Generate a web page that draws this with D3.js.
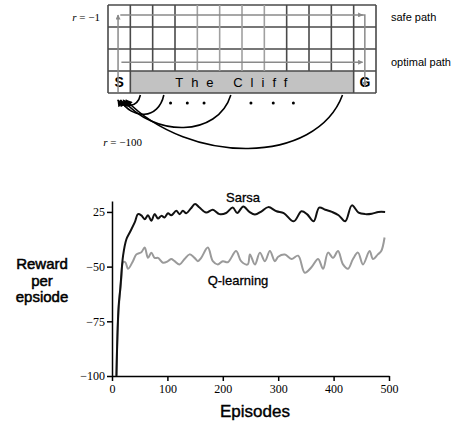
<!DOCTYPE html>
<html>
<head>
<meta charset="utf-8">
<script src="https://cdn.jsdelivr.net/npm/d3@7"></script>
<style>
  body { margin: 0; background: #fff; }
  svg { display: block; }
</style>
</head>
<body>
<div id="chart"></div>
<script>
// Gridworld layout
var nCols = 12, nRows = 4;
var lightCols = [4, 5, 6, 7];           // vertical lines drawn in lighter gray
var cliffCols = [1, 10];                // first / last cliff column
var fallCols = [1.45, 2.5, 5.5, 10.5];  // where the cliff arrows start
var fallDepth = [0.45, 0.85, 1.45, 2.4]; // how far below the grid they dip (rows)
var dotCols = [2.8, 3.55, 4.3, 6.4, 7.4, 8.3];

// Learning curves
var sarsaEp = [8, 10, 12, 15, 20, 26, 32, 41, 47, 53, 59, 65, 71, 77, 83, 89, 95, 101, 107, 116, 122, 128, 134, 142, 150, 158, 170, 182, 194, 206, 218, 226, 237, 248, 258, 270, 282, 297, 310, 328, 342, 352, 364, 374, 385, 397, 409, 421, 433, 445, 457, 469, 481, 493];
var sarsaVal = [-100, -80, -68, -60, -45, -37.5, -34.4, -29.8, -26, -26.6, -28.3, -26.5, -29, -26, -28, -26.8, -27.5, -25.6, -26.5, -24.5, -26, -24.5, -25.6, -23.5, -21.4, -23, -25.3, -24, -26, -25.5, -23, -25.5, -22.5, -25, -26.2, -24.7, -22.8, -24.7, -25.5, -29.3, -24.7, -26, -29.3, -23, -24, -25, -26.5, -29.3, -22, -25.3, -26, -25.8, -25, -25];
var qEp = [8, 10, 13, 17, 20, 24, 29, 38, 44, 53, 59, 65, 71, 77, 83, 92, 101, 107, 113, 122, 131, 140, 149, 155, 161, 173, 182, 191, 200, 209, 224, 233, 245, 249, 258, 267, 276, 285, 294, 300, 312, 324, 336, 348, 360, 372, 381, 390, 399, 408, 417, 426, 435, 444, 453, 465, 471, 480, 486, 492];
var qVal = [-100, -80, -66, -55, -48, -48, -51, -47.4, -44.4, -43.4, -41.3, -46, -43.6, -46, -46, -48.2, -47.5, -46.5, -47.5, -49, -46.5, -44.4, -46, -47.5, -46, -41.3, -47.5, -49, -47.5, -48, -42.9, -47.5, -49, -44.4, -49, -43.6, -47.5, -42.9, -47.5, -45.5, -44.5, -46.5, -45, -52.8, -50.3, -46.5, -51, -43.6, -46, -42.9, -49, -51, -46.5, -43.6, -49, -42.9, -46.5, -44.4, -42.9, -36.7];

var xTicks = [0, 100, 200, 300, 400, 500];
var yTicks = [-100, -75, -50, -25];
var yTickLabels = ["\u2212100", "\u221275", "\u221250", "25"];

var width = 460, height = 421;

var svg = d3.select("#chart").append("svg")
    .attr("width", width)
    .attr("height", height);

var defs = svg.append("defs");
defs.append("marker")
    .attr("id", "grayArrow")
    .attr("viewBox", "0 0 10 10")
    .attr("refX", 9).attr("refY", 5)
    .attr("markerWidth", 6).attr("markerHeight", 5)
    .attr("markerUnits", "userSpaceOnUse")
    .attr("orient", "auto")
    .append("path").attr("d", "M0,0L10,5L0,10z").attr("fill", "#8a8a8a");
defs.append("marker")
    .attr("id", "blackArrow")
    .attr("viewBox", "0 0 10 10")
    .attr("refX", 9).attr("refY", 5)
    .attr("markerWidth", 8).attr("markerHeight", 7)
    .attr("markerUnits", "userSpaceOnUse")
    .attr("orient", "auto")
    .append("path").attr("d", "M0,0L10,5L0,10z").attr("fill", "#000");

// ---------- Gridworld ----------
var gx = d3.scaleLinear().domain([0, nCols]).range([108, 376]);
var gy = d3.scaleLinear().domain([0, nRows]).range([5, 93]);

var grid = svg.append("g");

// cliff
grid.append("rect")
    .attr("x", gx(cliffCols[0]))
    .attr("y", gy(nRows - 1))
    .attr("width", gx(cliffCols[1] + 1) - gx(cliffCols[0]))
    .attr("height", gy(nRows) - gy(nRows - 1))
    .attr("fill", "#c2c2c2");

grid.selectAll(".hline")
    .data(d3.range(nRows + 1))
    .enter().append("line")
    .attr("x1", gx(0)).attr("x2", gx(nCols))
    .attr("y1", function(d) { return gy(d); })
    .attr("y2", function(d) { return gy(d); })
    .attr("stroke", "#4a4a4a").attr("stroke-width", 1.6);

grid.selectAll(".vline")
    .data(d3.range(nCols + 1))
    .enter().append("line")
    .attr("x1", function(d) { return gx(d); })
    .attr("x2", function(d) { return gx(d); })
    .attr("y1", gy(0))
    .attr("y2", function(d) { return (d >= cliffCols[0] + 1 && d <= cliffCols[1]) ? gy(nRows - 1) : gy(nRows); })
    .attr("stroke", function(d) { return lightCols.indexOf(d) >= 0 ? "#a0a0a0" : "#4a4a4a"; })
    .attr("stroke-width", 1.6);

grid.append("text")
    .attr("x", gx(0.5)).attr("y", gy(3.5) + 5)
    .attr("text-anchor", "middle")
    .style("font", "bold 14px 'Liberation Sans', Arial, sans-serif")
    .text("S");
grid.append("text")
    .attr("x", gx(11.5)).attr("y", gy(3.5) + 5)
    .attr("text-anchor", "middle")
    .style("font", "bold 14px 'Liberation Sans', Arial, sans-serif")
    .text("G");
grid.append("text")
    .attr("x", gx(5.7)).attr("y", gy(3.5) + 5)
    .attr("text-anchor", "middle")
    .style("font", "13px 'Liberation Sans', Arial, sans-serif")
    .style("letter-spacing", "8px")
    .text("The Cliff");

// safe and optimal paths
var line = d3.line();
grid.append("path")
    .attr("d", line([[gx(0.45), gy(4) - 1], [gx(0.45), gy(0.45)]]))
    .attr("fill", "none").attr("stroke", "#8a8a8a").attr("stroke-width", 1.5)
    .attr("marker-end", "url(#grayArrow)");
grid.append("path")
    .attr("d", line([[gx(0.55), gy(0.45)], [gx(11.4), gy(0.45)]]))
    .attr("fill", "none").attr("stroke", "#8a8a8a").attr("stroke-width", 1.5)
    .attr("marker-end", "url(#grayArrow)");
grid.append("path")
    .attr("d", line([[gx(11.2), gy(0.45)], [gx(11.5), gy(0.45)], [gx(11.5), gy(3.7)]]))
    .attr("fill", "none").attr("stroke", "#8a8a8a").attr("stroke-width", 1.5)
    .attr("marker-end", "url(#grayArrow)");
grid.append("path")
    .attr("d", line([[gx(0.6), gy(2.6)], [gx(11.4), gy(2.6)]]))
    .attr("fill", "none").attr("stroke", "#8a8a8a").attr("stroke-width", 1.5)
    .attr("marker-end", "url(#grayArrow)");

// falls off the cliff back to S
var rowH = gy(1) - gy(0);
fallCols.forEach(function(c, i) {
    var sx = gx(c), sy = gy(nRows) + 2;
    var ex = gx(0.35 + i * 0.12), ey = gy(nRows) + 5;
    var h = fallDepth[i] * rowH / 0.75;
    var p = d3.path();
    p.moveTo(sx, sy);
    p.bezierCurveTo(sx - (sx - ex) * 0.12, sy + h, ex + (sx - ex) * 0.3, sy + h, ex + 2, ey + 2);
    grid.append("path")
        .attr("d", p.toString())
        .attr("fill", "none").attr("stroke", "#000").attr("stroke-width", 1.6)
        .attr("marker-end", "url(#blackArrow)");
});

grid.selectAll(".dot")
    .data(dotCols)
    .enter().append("circle")
    .attr("cx", function(d) { return gx(d); })
    .attr("cy", gy(nRows) + 10)
    .attr("r", 1.5)
    .attr("fill", "#000");

grid.append("text")
    .attr("x", 100).attr("y", 21)
    .attr("text-anchor", "end")
    .style("font", "11px 'Liberation Serif', 'Times New Roman', serif")
    .html("<tspan font-style='italic'>r</tspan> = \u22121");
grid.append("text")
    .attr("x", 142).attr("y", 146)
    .attr("text-anchor", "end")
    .style("font", "11px 'Liberation Serif', 'Times New Roman', serif")
    .html("<tspan font-style='italic'>r</tspan> = \u2212100");
grid.append("text")
    .attr("x", 391).attr("y", 21)
    .style("font", "11px 'Liberation Sans', Arial, sans-serif")
    .text("safe path");
grid.append("text")
    .attr("x", 391).attr("y", 66)
    .style("font", "11px 'Liberation Sans', Arial, sans-serif")
    .text("optimal path");

// ---------- Learning curves ----------
var x = d3.scaleLinear().domain([0, 500]).range([112, 389]);
var y = d3.scaleLinear().domain([-100, -20]).range([376, 201]);

var chart = svg.append("g");

var xAxis = chart.append("g")
    .attr("transform", "translate(0," + y(-100) + ")")
    .call(d3.axisBottom(x).tickValues(xTicks).tickSize(5).tickSizeOuter(0).tickPadding(3));
xAxis.select(".domain").attr("stroke-width", 1.5);
xAxis.selectAll("line").attr("stroke-width", 1.5);
xAxis.selectAll("text")
    .style("font", "12px 'Liberation Serif', 'Times New Roman', serif")
    .attr("fill", "#000");

var yAxis = chart.append("g")
    .attr("transform", "translate(" + x(0) + ",0)")
    .call(d3.axisLeft(y).tickValues(yTicks).tickSize(5).tickSizeOuter(0).tickPadding(2)
        .tickFormat(function(d, i) { return yTickLabels[i]; }));
yAxis.select(".domain").attr("stroke-width", 1.5);
yAxis.selectAll("line").attr("stroke-width", 1.5);
yAxis.selectAll("text")
    .style("font", "12px 'Liberation Serif', 'Times New Roman', serif")
    .attr("fill", "#000");

var curve = d3.line()
    .x(function(d) { return x(d[0]); })
    .y(function(d) { return y(d[1]); })
    .curve(d3.curveCatmullRom.alpha(0.5));

chart.append("path")
    .datum(d3.zip(qEp, qVal))
    .attr("d", curve)
    .attr("fill", "none").attr("stroke", "#9a9a9a").attr("stroke-width", 2);
chart.append("path")
    .datum(d3.zip(sarsaEp, sarsaVal))
    .attr("d", curve)
    .attr("fill", "none").attr("stroke", "#111").attr("stroke-width", 2);

chart.append("text")
    .attr("x", 243).attr("y", 202)
    .attr("text-anchor", "middle")
    .style("font", "13px 'Liberation Sans', Arial, sans-serif")
    .attr("stroke", "#000").attr("stroke-width", 0.3)
    .text("Sarsa");
chart.append("text")
    .attr("x", 238).attr("y", 285)
    .attr("text-anchor", "middle")
    .style("font", "13px 'Liberation Sans', Arial, sans-serif")
    .attr("stroke", "#000").attr("stroke-width", 0.3)
    .text("Q-learning");

var yTitle = chart.append("g")
    .attr("text-anchor", "middle")
    .style("font", "15px 'Liberation Sans', Arial, sans-serif")
    .attr("fill", "#000")
    .attr("stroke", "#000").attr("stroke-width", 0.5);
["Reward", "per", "epsiode"].forEach(function(t, i) {
    yTitle.append("text").attr("x", 42).attr("y", 269 + i * 16.5).text(t);
});

chart.append("text")
    .attr("x", 255).attr("y", 417)
    .attr("text-anchor", "middle")
    .style("font", "17px 'Liberation Sans', Arial, sans-serif")
    .attr("fill", "#000")
    .attr("stroke", "#000").attr("stroke-width", 0.4)
    .text("Episodes");
</script>
</body>
</html>
